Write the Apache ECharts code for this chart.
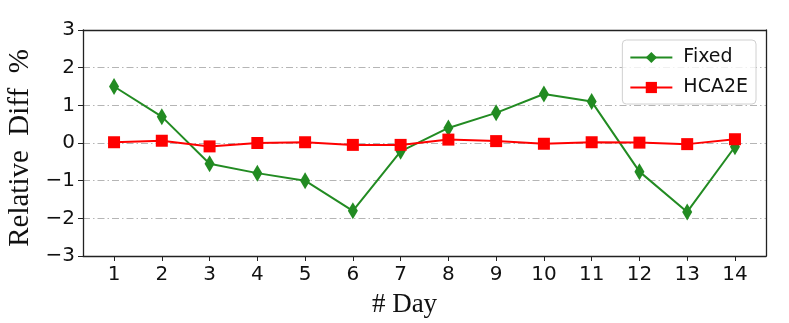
<!DOCTYPE html>
<html>
<head>
<meta charset="utf-8">
<script src="https://cdn.jsdelivr.net/npm/echarts@6/dist/echarts.min.js"></script>
<style>
  html, body { margin: 0; padding: 0; background: #fff; }
  #echarts { width: 789px; height: 323px; }
</style>
</head>
<body>
<div id="echarts"></div>
<script>
const days = [1, 2, 3, 4, 5, 6, 7, 8, 9, 10, 11, 12, 13, 14];
const fixedVals = [1.5, 0.7, -0.55, -0.8, -1.0, -1.8, -0.22, 0.4, 0.8, 1.3, 1.1, -0.76, -1.83, -0.1];
const hca2eVals = [0.02, 0.06, -0.09, 0.0, 0.02, -0.05, -0.05, 0.09, 0.05, -0.02, 0.02, 0.01, -0.03, 0.1];

const chartDom = document.getElementById('echarts');
const myChart = echarts.init(chartDom);

const pair = (vals) => days.map((d, i) => [d, vals[i]]);
const frame = { show: true, onZero: false, lineStyle: { color: '#222', width: 1.3 } };

let option = {
    animation: false,
    backgroundColor: '#fff',
    grid: {
        left: 83,
        right: 23,
        top: 30,
        bottom: 67,
        containLabel: false,
        outerBoundsMode: 'none'
    },
    legend: {
        right: 33,
        top: 40,
        orient: 'vertical',
        itemWidth: 42,
        itemHeight: 14,
        itemGap: 11,
        padding: [8, 8, 7, 7],
        borderColor: '#d0d0d0',
        borderWidth: 1,
        borderRadius: 4,
        backgroundColor: 'rgba(255,255,255,0.8)',
        textStyle: {
            fontFamily: 'DejaVu Sans',
            fontSize: 19,
            color: '#111',
            padding: [0, 0, 0, 6]
        },
        data: ['Fixed', 'HCA2E']
    },
    xAxis: [
        {
            type: 'value',
            min: 0.35,
            max: 14.65,
            name: '# Day',
            nameLocation: 'middle',
            nameGap: 35,
            nameTextStyle: {
                fontFamily: 'Liberation Serif',
                fontSize: 27,
                color: '#111',
                padding: [0, 40, 0, 0]
            },
            axisLine: frame,
            axisTick: {
                show: true,
                length: 5,
                lineStyle: { color: '#222' },
                customValues: days
            },
            axisLabel: {
                fontFamily: 'DejaVu Sans',
                fontSize: 20,
                color: '#111',
                margin: 9,
                customValues: days
            },
            splitLine: { show: false }
        },
        {
            type: 'value',
            position: 'top',
            min: 0.35,
            max: 14.65,
            axisLine: frame,
            axisTick: { show: false },
            axisLabel: { show: false },
            splitLine: { show: false }
        }
    ],
    yAxis: [
        {
            type: 'value',
            min: -3,
            max: 3,
            interval: 1,
            name: 'Relative  Diff  %',
            nameLocation: 'middle',
            nameRotate: 90,
            nameGap: 34,
            nameTextStyle: {
                fontFamily: 'Liberation Serif',
                fontSize: 29,
                color: '#111',
                padding: [0, 10, 0, 0]
            },
            axisLine: frame,
            axisTick: { show: true, length: 5, lineStyle: { color: '#222' } },
            axisLabel: {
                fontFamily: 'DejaVu Sans',
                fontSize: 20,
                color: '#111',
                margin: 8,
                formatter: (v) => (v < 0 ? '\u2212' + Math.abs(v) : String(v))
            },
            splitLine: {
                show: true,
                lineStyle: {
                    color: '#b5b5b5',
                    width: 1,
                    type: [7, 3, 1.5, 3]
                }
            }
        },
        {
            type: 'value',
            position: 'right',
            min: -3,
            max: 3,
            axisLine: frame,
            axisTick: { show: false },
            axisLabel: { show: false },
            splitLine: { show: false }
        }
    ],
    series: [
        {
            name: 'Fixed',
            type: 'line',
            data: pair(fixedVals),
            symbol: 'diamond',
            symbolSize: [10, 17],
            lineStyle: { color: '#228B22', width: 2 },
            itemStyle: { color: '#228B22' },
            z: 2
        },
        {
            name: 'HCA2E',
            type: 'line',
            data: pair(hca2eVals),
            symbol: 'rect',
            symbolSize: 12,
            lineStyle: { color: '#ff0000', width: 2 },
            itemStyle: { color: '#ff0000' },
            z: 3
        }
    ]
};
option && myChart.setOption(option);
</script>
</body>
</html>
